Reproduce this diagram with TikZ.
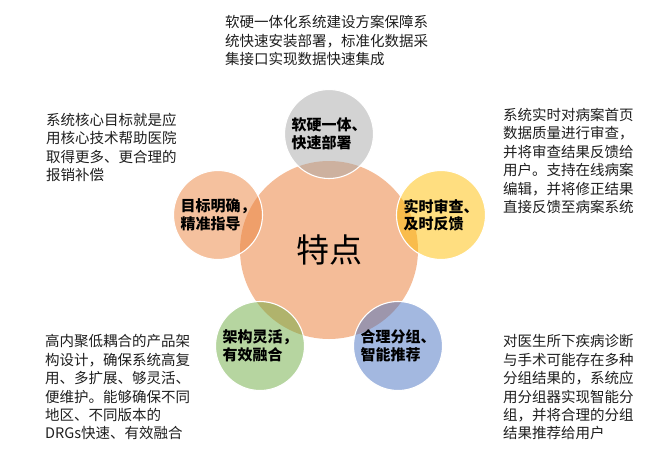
\documentclass[tikz,border=0pt]{standalone}
\usepackage{fontspec}
\newfontfamily\cjk{Noto Sans CJK SC}
\definecolor{centerc}{RGB}{244,188,152}
\definecolor{grayc}{RGB}{167,167,167}
\definecolor{orangec}{RGB}{235,131,61}
\definecolor{yellowc}{RGB}{255,189,1}
\definecolor{greenc}{RGB}{109,171,65}
\definecolor{bluec}{RGB}{71,113,193}
\definecolor{txt}{RGB}{30,30,30}
\tikzset{
  smallc/.style={circle, minimum size=89pt, inner sep=0pt, draw=white, line width=1.1pt,
    fill=#1, fill opacity=0.5, text opacity=1, align=left,
    font=\cjk\bfseries\fontsize{15}{17.5}\selectfont, text=black},
  desc/.style={anchor=north west, inner sep=0pt, align=left, text=txt,
    font=\cjk\fontsize{14.5}{18.4}\selectfont}
}
\begin{document}
\begin{tikzpicture}[x=1pt,y=-1pt]
\useasboundingbox (0,0) rectangle (671,450);
\node[circle, minimum size=178pt, inner sep=0pt, fill=centerc, font=\cjk\fontsize{33}{36}\selectfont] (center) at (329,250) {特点};
\node[smallc=grayc] (top) at (329,134) {软硬一体、\\快速部署};
\node[smallc=orangec] (left) at (218,215) {目标明确，\\精准指导};
\node[smallc=yellowc] (right) at (441,215) {实时审查、\\及时反馈};
\node[smallc=greenc] (bl) at (260,346) {架构灵活，\\有效融合};
\node[smallc=bluec] (br) at (398,346) {合理分组、\\智能推荐};
\node[desc] (ttop) at (225,15.5) {软硬一体化系统建设方案保障系\\统快速安装部署，标准化数据采\\集接口实现数据快速集成};
\node[desc] (tleft) at (46,113) {系统核心目标就是应\\用核心技术帮助医院\\取得更多、更合理的\\报销补偿};
\node[desc] (tright) at (503,108) {系统实时对病案首页\\数据质量进行审查，\\并将审查结果反馈给\\用户。支持在线病案\\编辑，并将修正结果\\直接反馈至病案系统};
\node[desc] (tbl) at (45,334.5) {高内聚低耦合的产品架\\构设计，确保系统高复\\用、多扩展、够灵活、\\便维护。能够确保不同\\地区、不同版本的\\DRGs快速、有效融合};
\node[desc] (tbr) at (503,334.5) {对医生所下疾病诊断\\与手术可能存在多种\\分组结果的，系统应\\用分组器实现智能分\\组，并将合理的分组\\结果推荐给用户};
\end{tikzpicture}
\end{document}
